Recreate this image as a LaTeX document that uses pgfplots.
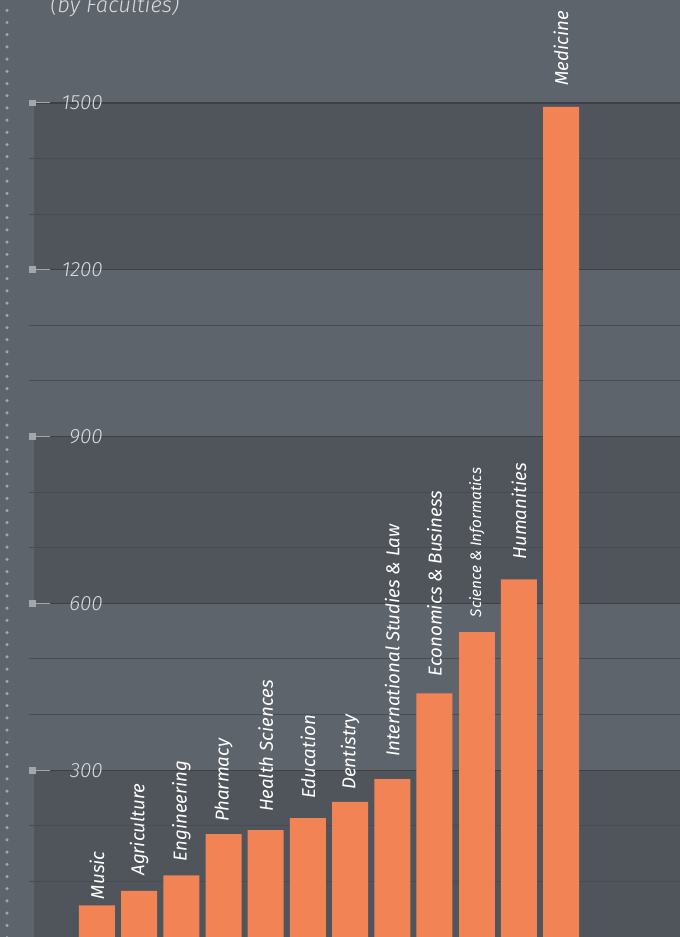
\documentclass[border=0pt]{standalone}
\usepackage{fontspec}
\setmainfont{Fira Sans}
\newfontfamily\lightfont{Fira Sans Light}
\usepackage{pgfplots}
\pgfplotsset{compat=1.18}
\definecolor{bg}{HTML}{5E646B}
\definecolor{band}{HTML}{50555C}
\definecolor{gridc}{HTML}{474C52}
\definecolor{gridmaj}{HTML}{3D4147}
\definecolor{barc}{HTML}{F28355}
\definecolor{tickc}{HTML}{D8DADC}
\definecolor{dotc}{HTML}{A3A7AC}
\newcommand\g[1]{\hspace*{#1pt}}
\begin{document}
\begin{tikzpicture}[x=1pt,y=1pt]
\useasboundingbox (0,0) rectangle (510,702.75);
\fill[bg] (0,0) rectangle (510,702.75);
\foreach \i in {0,...,76} \fill[dotc] (5.25, 695 - \i*9.15) circle (1.3);
\node[anchor=base west, font=\lightfont\itshape\fontsize{16.5}{16.5}\selectfont, text=tickc, inner sep=0] at (37.5, 693) {(by Faculties)};
\begin{axis}[
  at={(25.5pt,0pt)}, anchor=south west, scale only axis,
  width=484.5pt, height=625.5pt,
  xmin=-1.493, xmax=13.82, ymin=0, ymax=1500,
  clip=false, axis on top,
  axis line style={draw=none},
  major tick length=0pt,
  xtick=\empty,
  ytick={300,600,900,1200,1500},
  yticklabels={300,600,900,1200,1500},
  /pgf/number format/assume math mode=true,
  yticklabel style={anchor=east, inner sep=0pt, xshift=51.75pt, font=\lightfont\itshape\fontsize{15.5}{15.5}\selectfont, text=tickc},
]
\fill[band] (axis cs:-1.493,0) rectangle (axis cs:13.82,300);
\fill[band] (axis cs:-1.493,600) rectangle (axis cs:13.82,900);
\fill[band] (axis cs:-1.493,1200) rectangle (axis cs:13.82,1500);
\pgfplotsinvokeforeach{100,200,400,500,700,800,1000,1100,1300,1400}{
  \draw[gridc, line width=0.75pt] (axis cs:-1.611,#1) -- (axis cs:13.82,#1);
}
\pgfplotsinvokeforeach{300,600,900,1200,1500}{
  \draw[gridmaj, line width=1pt] (axis cs:-1.611,#1) -- (axis cs:13.82,#1);
  \fill[dotc] (axis cs:-1.528,#1) ++(-2.6pt,-2.6pt) rectangle ++(5.2pt,5.2pt);
  \draw[dotc, line width=0.75pt] (axis cs:-1.445,#1) -- (axis cs:-1.114,#1);
}
\addplot[ybar, bar width=0.853, bar shift=0pt, fill=barc, draw=none,
  point meta=explicit symbolic, nodes near coords,
  nodes near coords style={rotate=90, anchor=west, inner sep=0pt, text=white, font=\itshape\fontsize{14}{14}\selectfont}]
coordinates {
(0,57)[\g{4.5}Music]
(1,83)[\g{11.25}Agriculture]
(2,111)[\g{10.5}Engineering]
(3,185)[\g{9}Pharmacy]
(4,192)[\g{13.5}Health Sciences]
(5,214)[\g{14.25}Education]
(6,243)[\g{9}Dentistry]
(7,284)[\g{16.5}International Studies \& Law]
(8,438)[\g{12.75}Economics \& Business]
(10,643)[\g{15}Humanities]
(11,1493)[\g{15.75}Medicine]
};
\addplot[ybar, bar width=0.853, bar shift=0pt, fill=barc, draw=none,
  point meta=explicit symbolic, nodes near coords,
  nodes near coords style={rotate=90, anchor=west, inner sep=0pt, text=white, font=\itshape\fontsize{11.5}{11.5}\selectfont}]
coordinates {
(9,548)[\g{11.25}Science \& Informatics]
};
\end{axis}
\end{tikzpicture}
\end{document}
